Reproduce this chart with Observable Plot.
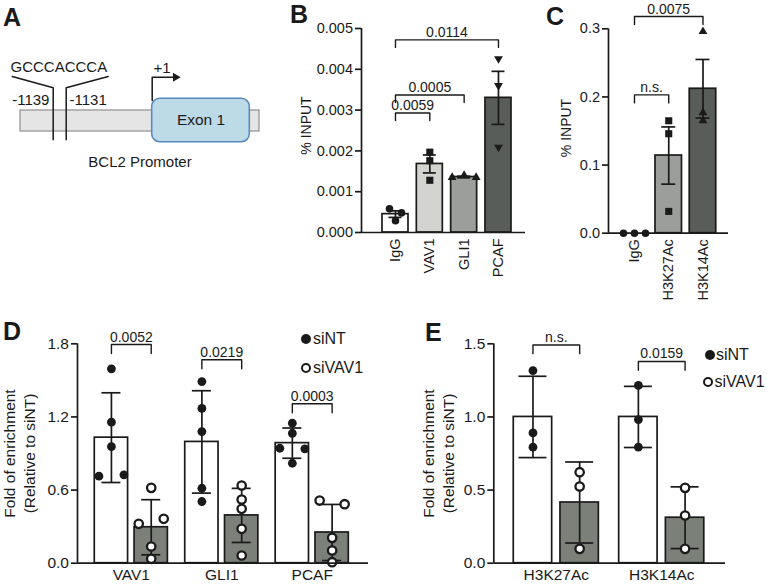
<!DOCTYPE html>
<html>
<head>
<meta charset="utf-8">
<script src="https://cdn.jsdelivr.net/npm/d3@7"></script>
<script src="https://cdn.jsdelivr.net/npm/@observablehq/plot@0.6"></script>
<style>
  body { margin: 0; background: #fff; }
  #fig { position: relative; width: 767px; height: 586px; overflow: hidden;
         font-family: "Liberation Sans", Arial, Helvetica, sans-serif; color: #1a1a1a; }
  .tag { position: absolute; font-weight: bold; font-size: 25px; line-height: 25px; }
  .key { position: absolute; font-size: 16px; line-height: 18px; white-space: nowrap; }
  .swatch { position: absolute; border-radius: 50%; box-sizing: border-box; }
</style>
</head>
<body>
<div id="fig"></div>
<script>
const FONT = '"Liberation Sans", Arial, Helvetica, sans-serif';
const INK = "#1a1a1a";

// ---------- A: BCL2 promoter schematic (drawing units) ----------
const promoterBox = [{x1: 20, x2: 259, y1: 110, y2: 131}];
const exonBox = [{x1: 151.7, x2: 249.3, y1: 98.3, y2: 141.7, label: "Exon 1"}];
const motifSeq = "GCCCACCCA";
const motifLeftLeader = [[11.7, 76], [52.7, 87.3], [52.7, 139.3]];
const motifRightLeader = [[107.7, 76], [65.7, 87.3], [65.7, 139.3]];
const motifBounds = [{text: "-1139", x: 11.7, y: 104}, {text: "-1131", x: 69, y: 104}];
const tssArrow = [[151.7, 100], [151.7, 76.7], [173, 76.7]];
const tssLabel = "+1";
const promoterName = "BCL2 Promoter";

// ---------- B: ChIP-qPCR at the BCL2 promoter ----------
const chipTargets = ["IgG", "VAV1", "GLI1", "PCAF"];
const chipMean = [0.00045, 0.00168, 0.00136, 0.00330];
const chipSem = [0.00008, 0.00022, 0.00002, 0.00065];
const chipReplicates = [
  [0.00058, 0.00048, 0.00029],
  [0.00197, 0.00176, 0.00128],
  [0.00135, 0.00140, 0.00135],
  [0.00426, 0.00360, 0.00209]
];
const chipTests = [
  {a: 0, b: 1, p: "0.0059", y: 0.00293},
  {a: 0, b: 2, p: "0.0005", y: 0.00337},
  {a: 0, b: 3, p: "0.0114", y: 0.00472}
];
const chipTicks = [0, 0.001, 0.002, 0.003, 0.004, 0.005];

// ---------- C: histone acetylation at the BCL2 promoter ----------
const histTargets = ["IgG", "H3K27Ac", "H3K14Ac"];
const histMean = [0, 0.114, 0.212];
const histSem = [0, 0.042, 0.043];
const histReplicates = [
  [0, 0, 0],
  [0.165, 0.146, 0.032],
  [0.296, 0.177, 0.165]
];
const histTests = [
  {a: 0, b: 1, p: "n.s.", y: 0.203},
  {a: 0, b: 2, p: "0.0075", y: 0.318}
];
const histTicks = [0, 0.1, 0.2, 0.3];

// ---------- D: factor occupancy after VAV1 knockdown ----------
const kdTargets = ["VAV1", "GLI1", "PCAF"];
const kdMeanNT = [1.03, 0.995, 0.985];
const kdSdNT = [0.368, 0.42, 0.124];
const kdMeanVAV1 = [0.295, 0.392, 0.252];
const kdSdVAV1 = [0.226, 0.222, 0.23];
const kdRepsNT = [
  [1.595, 1.157, 0.957, 0.714, 0.725],
  [1.49, 1.27, 1.08, 0.615, 0.506],
  [1.149, 1.066, 0.943, 0.938, 0.82]
];
const kdRepsVAV1 = [
  [0.618, 0.323, 0.364, 0.137, 0.036],
  [0.637, 0.522, 0.446, 0.282, 0.063],
  [0.514, 0.484, 0.208, 0.104, 0.008]
];
const kdP = ["0.0052", "0.0219", "0.0003"];
const kdPLevel = [1.794, 1.669, 1.308];
const kdTicks = [0, 0.6, 1.2, 1.8];

// ---------- E: histone acetylation after VAV1 knockdown ----------
const acTargets = ["H3K27Ac", "H3K14Ac"];
const acMeanNT = [1.0, 1.0];
const acSdNT = [0.278, 0.209];
const acMeanVAV1 = [0.415, 0.311];
const acSdVAV1 = [0.277, 0.211];
const acRepsNT = [[1.317, 0.891, 0.793], [1.215, 0.982, 0.793]];
const acRepsVAV1 = [[0.622, 0.524, 0.098], [0.515, 0.326, 0.098]];
const acP = ["n.s.", "0.0159"];
const acPLevel = [1.492, 1.379];
const acTicks = [0, 0.5, 1.0, 1.5];

const groupNames = ["siNT", "siVAV1"];

// ---------------------------------------------------------------
const fig = document.getElementById("fig");
function put(node, left, top) {
  node.style.position = "absolute";
  node.style.left = left + "px";
  node.style.top = top + "px";
  fig.appendChild(node);
}

// Replicates closer than `tol` pixels are laid out side by side, `gap` px apart.
function spreadRow(values, pxPerUnit, tol, gap) {
  const order = values.map((_, i) => i).sort((a, b) => values[a] - values[b]);
  const off = values.map(() => 0);
  let row = [];
  const flush = () => {
    const r = row.slice().sort((a, b) => a - b);
    r.forEach((k, j) => off[k] = (j - (r.length - 1) / 2) * gap);
  };
  for (const i of order) {
    if (row.length && (values[i] - values[row[0]]) * pxPerUnit >= tol) { flush(); row = []; }
    row.push(i);
  }
  if (row.length) flush();
  return off;
}

function barPanel(o) {
  const fw = o.width - o.ml - o.mr, fh = o.height - o.mt - o.mb;
  const kx = (o.xDomain[1] - o.xDomain[0]) / fw;
  const ky = (o.yDomain[1] - o.yDomain[0]) / fh;
  const bars = o.bars.map(b => ({...b, x: b.slot + (b.shift || 0) * kx}));
  const line = {stroke: INK, strokeWidth: 1.7};
  const marks = [];
  for (const b of bars) {
    marks.push(Plot.rect([b], {
      x1: d => d.x - o.barW / 2 * kx, x2: d => d.x + o.barW / 2 * kx,
      y1: () => 0, y2: d => d.mean, fill: b.fill, ...line
    }));
  }
  const eb = bars.filter(b => b.err > 0);
  marks.push(Plot.ruleX(eb, {x: "x", y1: d => d.mean - d.err, y2: d => d.mean + d.err, ...line}));
  for (const s of [1, -1]) {
    marks.push(Plot.ruleY(eb, {
      y: d => d.mean + s * d.err,
      x1: d => d.x - o.capW / 2 * kx, x2: d => d.x + o.capW / 2 * kx, ...line
    }));
  }
  for (const b of bars) {
    const off = spreadRow(b.reps, 1 / ky, o.tol, o.gap);
    const pts = b.reps.map((v, i) => ({x: b.x + off[i] * kx, y: v}));
    marks.push(Plot.dot(pts, {x: "x", y: "y", ...b.dot}));
  }
  for (const t of o.tests) {
    const xa = bars[t.a].x, xb = bars[t.b].x, leg = o.legPx * ky;
    marks.push(Plot.line([[xa, t.y - leg], [xa, t.y], [xb, t.y], [xb, t.y - leg]],
      {stroke: INK, strokeWidth: 1.4}));
    marks.push(Plot.text([t.p], {
      x: () => (xa + xb) / 2, y: () => t.y, dy: -3,
      lineAnchor: "bottom", fontSize: 14
    }));
  }
  marks.push(Plot.axisY(o.yTicks, {
    tickFormat: o.yFormat, tickSize: 6, tickPadding: 2.5, strokeWidth: 1.7, label: null
  }));
  marks.push(Plot.ruleX([o.xDomain[0]], line));
  marks.push(Plot.ruleY([0], line));
  marks.push(Plot.axisX(o.labels.map((_, i) => i), {
    tickFormat: i => o.labels[i], tickSize: 0, tickPadding: o.xPad,
    tickRotate: o.rotate || 0, label: null
  }));
  o.title.forEach((t, i) => marks.push(Plot.text([t], {
    frameAnchor: "left", textAnchor: "middle", rotate: -90,
    dx: o.titleDx[i], dy: o.titleDy || 0, fontSize: o.titleSize
  })));
  return Plot.plot({
    width: o.width, height: o.height,
    marginLeft: o.ml, marginRight: o.mr, marginTop: o.mt, marginBottom: o.mb,
    x: {domain: o.xDomain}, y: {domain: o.yDomain},
    style: {fontFamily: FONT, fontSize: o.fontSize + "px", color: INK,
            background: "transparent", overflow: "visible"},
    marks
  });
}

// ---------- A ----------
const panelA = Plot.plot({
  width: 280, height: 200, margin: 0,
  x: {domain: [0, 280], range: [0, 280], axis: null},
  y: {domain: [0, 200], range: [0, 200], axis: null},
  style: {fontFamily: FONT, fontSize: "15px", color: INK, background: "transparent", overflow: "visible"},
  marks: [
    Plot.rect(promoterBox, {x1: "x1", x2: "x2", y1: "y1", y2: "y2", fill: "#e4e5e4", stroke: "#9d9e9d", strokeWidth: 1.4}),
    Plot.rect(exonBox, {x1: "x1", x2: "x2", y1: "y1", y2: "y2", rx: 8, fill: "#bddbe7", stroke: "#5b8bbd", strokeWidth: 1.6}),
    Plot.text(exonBox, {x: d => (d.x1 + d.x2) / 2, y: d => (d.y1 + d.y2) / 2, text: "label", fontSize: 15.5}),
    Plot.line(motifLeftLeader, {stroke: INK, strokeWidth: 1.5}),
    Plot.line(motifRightLeader, {stroke: INK, strokeWidth: 1.5}),
    Plot.text([motifSeq], {x: () => 10, y: () => 71.7, textAnchor: "start", lineAnchor: "bottom"}),
    Plot.text(motifBounds, {x: "x", y: "y", text: "text", textAnchor: "start", lineAnchor: "bottom"}),
    Plot.line(tssArrow, {stroke: INK, strokeWidth: 1.5}),
    Plot.dot([tssArrow[tssArrow.length - 1]], {x: d => d[0], y: d => d[1], symbol: "triangle", rotate: 90, r: 3.3, fill: INK, dx: 2}),
    Plot.text([tssLabel], {x: () => 153, y: () => 72.7, textAnchor: "start", lineAnchor: "bottom"}),
    Plot.text([promoterName], {x: d => (promoterBox[0].x1 + promoterBox[0].x2) / 2, y: () => 166.7, lineAnchor: "bottom"})
  ]
});
put(panelA, 0, 0);

// ---------- B ----------
const chipFills = ["#ffffff", "#d3d4cf", "#9b9e9b", "#585d59"];
const chipDots = [
  {symbol: "circle", r: 3.8, fill: INK},
  {symbol: "square", r: 4, fill: INK},
  {symbol: "triangle", r: 3.3, fill: INK},
  {symbol: "triangle", r: 3.3, fill: INK, rotate: 180}
];
const panelB = barPanel({
  width: 240, height: 300, ml: 71, mr: 5, mt: 28, mb: 68,
  xDomain: [-0.99, 3.787], yDomain: [0, 0.005],
  yTicks: chipTicks, yFormat: d3.format(".3f"),
  bars: chipTargets.map((t, i) => ({slot: i, mean: chipMean[i], err: chipSem[i], reps: chipReplicates[i], fill: chipFills[i], dot: chipDots[i]})),
  tests: chipTests, labels: chipTargets, rotate: -90, xPad: 6,
  barW: 26, capW: 13, legPx: 7.5, tol: 7, gap: 12,
  title: ["% INPUT"], titleDx: [-55], titleDy: -5, titleSize: 14, fontSize: 14.5
});
put(panelB, 290, 0);

// ---------- C ----------
const histFills = ["#ffffff", "#9b9e9b", "#585d59"];
const histDots = [
  {symbol: "circle", r: 3.8, fill: INK},
  {symbol: "square", r: 4, fill: INK},
  {symbol: "triangle", r: 3.3, fill: INK}
];
const panelC = barPanel({
  width: 227, height: 300, ml: 68, mr: 39, mt: 28.3, mb: 67.3,
  xDomain: [-0.759, 2.745], yDomain: [0, 0.3],
  yTicks: histTicks, yFormat: d3.format(".1f"),
  bars: histTargets.map((t, i) => ({slot: i, mean: histMean[i], err: histSem[i], reps: histReplicates[i], fill: histFills[i], dot: histDots[i]})),
  tests: histTests, labels: histTargets, rotate: -90, xPad: 6,
  barW: 26.5, capW: 14, legPx: 8, tol: 7, gap: 11,
  title: ["% INPUT"], titleDx: [-42], titleDy: -3, titleSize: 14, fontSize: 14.5
});
put(panelC, 540, 0);

// ---------- D / E shared styling ----------
const knockdownFill = ["#ffffff", "#7b8079"];
const knockdownDot = [
  {symbol: "circle", r: 4.4, fill: INK},
  {symbol: "circle", r: 4.2, fill: "#ffffff", stroke: INK, strokeWidth: 2.3}
];
function knockdownBars(means, sds, reps, shift) {
  const out = [];
  means[0].forEach((_, i) => {
    for (let g = 0; g < 2; g++) {
      out.push({slot: i, shift: shift[g], mean: means[g][i], err: sds[g][i], reps: reps[g][i],
                fill: knockdownFill[g], dot: knockdownDot[g]});
    }
  });
  return out;
}

// ---------- D ----------
const panelD = barPanel({
  width: 400, height: 286, ml: 77, mr: 32, mt: 43.3, mb: 23.3,
  xDomain: [-0.595, 2.622], yDomain: [0, 1.8],
  yTicks: kdTicks, yFormat: d3.format(".1f"),
  bars: knockdownBars([kdMeanNT, kdMeanVAV1], [kdSdNT, kdSdVAV1], [kdRepsNT, kdRepsVAV1], [-19.9, 19.9]),
  tests: kdP.map((p, i) => ({a: 2 * i, b: 2 * i + 1, p, y: kdPLevel[i]})),
  labels: kdTargets, xPad: 6,
  barW: 33.3, capW: 19, legPx: 9, tol: 7, gap: 25,
  title: ["Fold of enrichment", "(Relative to siNT)"], titleDx: [-67, -47], titleSize: 15.5, fontSize: 15.5
});
put(panelD, 0, 300);

// ---------- E ----------
const panelE = barPanel({
  width: 367, height: 286, ml: 93.3, mr: 42, mt: 43.3, mb: 23.3,
  xDomain: [-0.593, 1.605], yDomain: [0, 1.5],
  yTicks: acTicks, yFormat: d3.format(".1f"),
  bars: knockdownBars([acMeanNT, acMeanVAV1], [acSdNT, acSdVAV1], [acRepsNT, acRepsVAV1], [-23.35, 23.35]),
  tests: acP.map((p, i) => ({a: 2 * i, b: 2 * i + 1, p, y: acPLevel[i]})),
  labels: acTargets, xPad: 6,
  barW: 38.4, capW: 28, legPx: 8.7, tol: 7, gap: 25,
  title: ["Fold of enrichment", "(Relative to siNT)"], titleDx: [-65, -45], titleSize: 15.5, fontSize: 15.5
});
put(panelE, 400, 300);

// ---------- legends for D and E ----------
function legendItem(name, g, cx, cy, textLeft) {
  const sw = document.createElement("div");
  sw.className = "swatch";
  const d = 10;
  sw.style.width = d + "px";
  sw.style.height = d + "px";
  if (g === 0) sw.style.background = INK;
  else { sw.style.background = "#fff"; sw.style.border = "2.3px solid " + INK; }
  put(sw, cx - d / 2, cy - d / 2);
  const t = document.createElement("div");
  t.className = "key";
  t.textContent = name;
  put(t, textLeft, cy - 9);
}
legendItem(groupNames[0], 0, 306, 339.3, 313);
legendItem(groupNames[1], 1, 306, 368.3, 313);
legendItem(groupNames[0], 0, 710, 355, 716);
legendItem(groupNames[1], 1, 708.3, 381.7, 714.5);

// ---------- panel letters ----------
[["A", 3, 26], ["B", 290, 23.5], ["C", 546, 25], ["D", 3, 340], ["E", 425, 340.7]].forEach(([s, x, base]) => {
  const el = document.createElement("div");
  el.className = "tag";
  el.textContent = s;
  put(el, x, base - 21.2);
});
</script>
</body>
</html>
